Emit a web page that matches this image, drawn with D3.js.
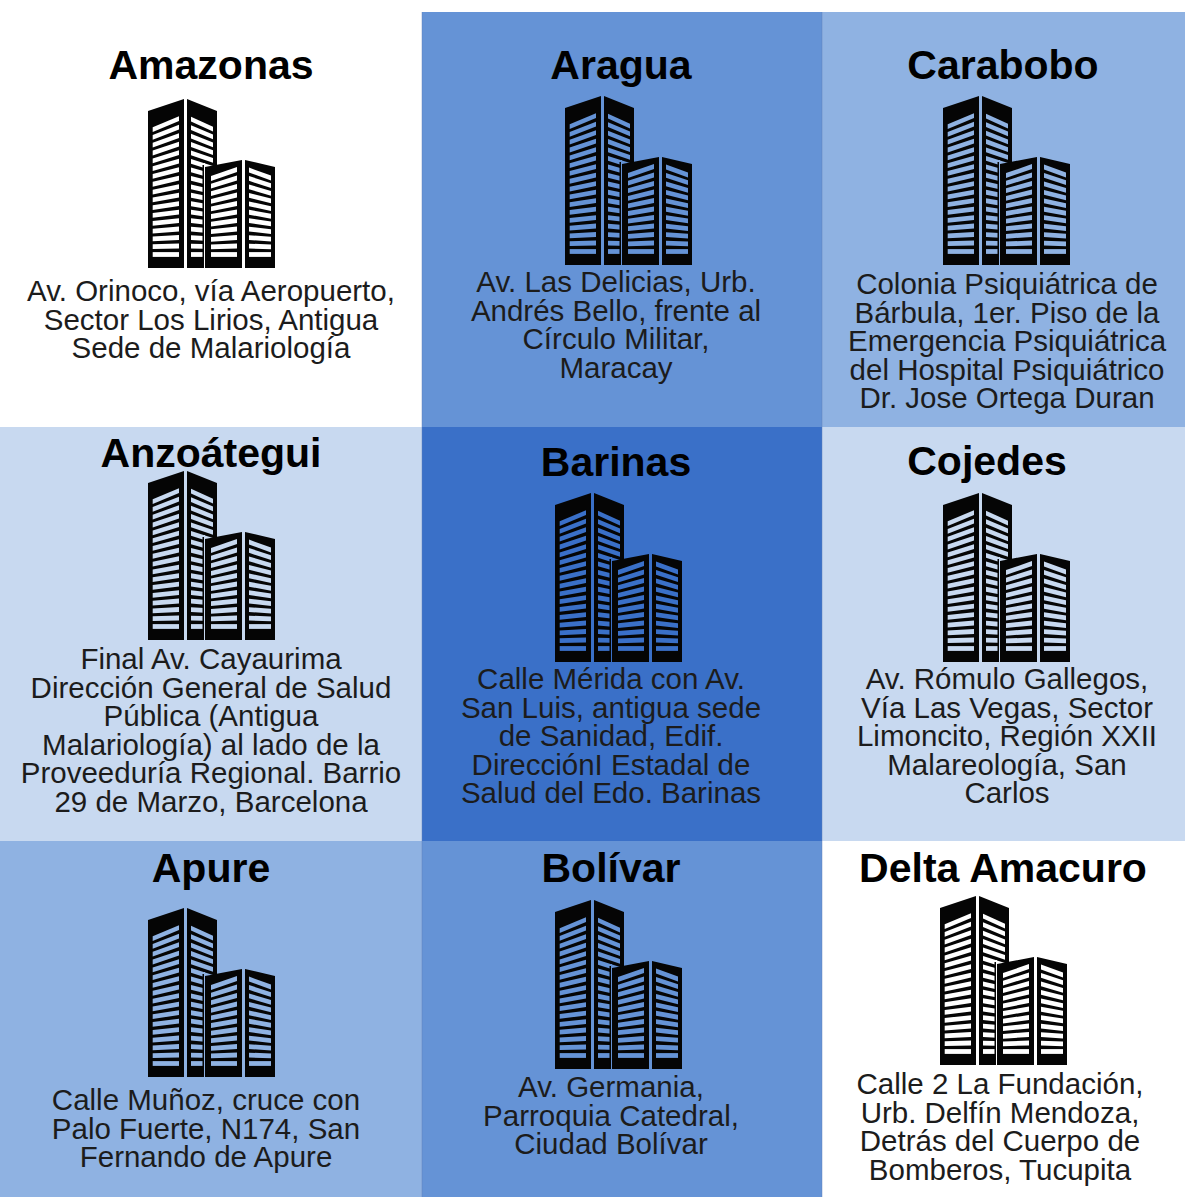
<!DOCTYPE html>
<html>
<head>
<meta charset="utf-8">
<script src="https://cdn.jsdelivr.net/npm/d3@7"></script>
<style>
  html, body { margin: 0; background: #fff; }
  text { font-family: "Liberation Sans", Arial, sans-serif; text-anchor: middle; }
</style>
</head>
<body>
<svg id="chart" width="1185" height="1200"></svg>
<script>
// data, column by column
const states = ["Amazonas", "Anzoátegui", "Apure", "Aragua", "Barinas", "Bolívar", "Carabobo", "Cojedes", "Delta Amacuro"];
const addresses = [
  ["Av. Orinoco, vía Aeropuerto,", "Sector Los Lirios, Antigua", "Sede de Malariología"],
  ["Final Av. Cayaurima", "Dirección General de Salud", "Pública (Antigua", "Malariología) al lado de la", "Proveeduría Regional. Barrio", "29 de Marzo, Barcelona"],
  ["Calle Muñoz, cruce con", "Palo Fuerte, N174, San", "Fernando de Apure"],
  ["Av. Las Delicias, Urb.", "Andrés Bello, frente al", "Círculo Militar,", "Maracay"],
  ["Calle Mérida con Av.", "San Luis, antigua sede", "de Sanidad, Edif.", "DirecciónI Estadal de", "Salud del Edo. Barinas"],
  ["Av. Germania,", "Parroquia Catedral,", "Ciudad Bolívar"],
  ["Colonia Psiquiátrica de", "Bárbula, 1er. Piso de la", "Emergencia Psiquiátrica", "del Hospital Psiquiátrico", "Dr. Jose Ortega Duran"],
  ["Av. Rómulo Gallegos,", "Vía Las Vegas, Sector", "Limoncito, Región XXII", "Malareología, San", "Carlos"],
  ["Calle 2 La Fundación,", "Urb. Delfín Mendoza,", "Detrás del Cuerpo de", "Bomberos, Tucupita"]
];
const shades = [0, 1, 2, 3, 4, 3, 2, 1, 0];

// layout, same order as states
const colEdges = [0, 422, 822, 1185];
const rowEdges = [12, 427, 841, 1197];
const titlePos = [[211, 79], [211, 467], [211, 882], [621, 79], [616, 476], [611, 882], [1003, 79], [987, 475], [1003, 882]];
const iconPos = [[148, 99], [148, 471], [148, 908], [565, 96], [555, 493], [555, 900], [943, 96], [943, 493], [940, 896]];
const textPos = [[211, 301], [211, 669], [206, 1110], [616, 292], [611, 689], [611, 1097], [1007, 294], [1007, 689], [1000, 1094]];

const color = d3.scaleOrdinal([0, 1, 2, 3, 4], ["#ffffff", "#c8d9f0", "#8fb2e2", "#6593d6", "#3a70c8"]);
const lineHeight = 28.5;

const svg = d3.select("#chart");

// one half of a building: rises towards the inner edge, windows follow the slant
function half(g, o, bg) {
  const bottom = 169;
  const risesRight = o.inner === o.x1;
  g.append("path")
    .attr("d", `M${o.x0},${risesRight ? o.outer : o.top}L${o.x1},${risesRight ? o.top : o.outer}L${o.x1},${bottom}L${o.x0},${bottom}Z`)
    .attr("fill", "#050505");
  d3.range(o.rows).forEach(i => {
    const yc = 155.5 - i * o.step;
    const s = o.slant * i / (o.rows - 1);
    const h = 4.8;
    const yL = risesRight ? yc + s / 2 : yc - s / 2;
    const yR = risesRight ? yc - s / 2 : yc + s / 2;
    g.append("path")
      .attr("d", `M${o.a},${yL - h / 2}L${o.b},${yR - h / 2}L${o.b},${yR + h / 2}L${o.a},${yL + h / 2}Z`)
      .attr("fill", bg);
  });
}

function building(g, bg) {
  half(g, { x0: 0, x1: 36, inner: 36, top: 0, outer: 12, a: 4.7, b: 31, rows: 17, step: 8.15, slant: 11 }, bg);
  half(g, { x0: 39, x1: 69, inner: 39, top: 0, outer: 12, a: 43, b: 65, rows: 17, step: 8.15, slant: 10 }, bg);
  // dark edge and gap between the tall and the short block
  g.append("path").attr("d", "M54.5,66V169H56V66Z").attr("fill", "#050505");
  g.append("path").attr("d", "M56,64V169H57V64Z").attr("fill", bg);
  half(g, { x0: 57, x1: 94, inner: 94, top: 61, outer: 68, a: 63, b: 89, rows: 11, step: 8.05, slant: 9 }, bg);
  half(g, { x0: 97, x1: 127, inner: 97, top: 61, outer: 68, a: 101, b: 123, rows: 11, step: 8.05, slant: 8 }, bg);
}

states.forEach((name, i) => {
  const c = Math.floor(i / 3), r = i % 3;
  const bg = color(shades[i]);
  svg.append("rect")
    .attr("x", colEdges[c]).attr("y", rowEdges[r])
    .attr("width", colEdges[c + 1] - colEdges[c])
    .attr("height", rowEdges[r + 1] - rowEdges[r])
    .attr("fill", bg);

  svg.append("text")
    .attr("x", titlePos[i][0]).attr("y", titlePos[i][1])
    .attr("font-size", 41).attr("font-weight", "bold")
    .attr("fill", "#000")
    .text(name);

  const g = svg.append("g").attr("transform", `translate(${iconPos[i][0]},${iconPos[i][1]})`);
  building(g, bg);

  svg.append("g").selectAll("text")
    .data(addresses[i])
    .join("text")
    .attr("x", textPos[i][0])
    .attr("y", (d, k) => textPos[i][1] + k * lineHeight)
    .attr("font-size", 29.5)
    .attr("fill", "#1c1c1c")
    .text(d => d);
});

// thin dark seams between the cells
svg.selectAll("line.col")
  .data(colEdges.slice(1, 3))
  .join("line")
  .attr("class", "col")
  .attr("x1", d => d).attr("x2", d => d)
  .attr("y1", rowEdges[0]).attr("y2", rowEdges[3])
  .attr("stroke", "#5f7fb5").attr("stroke-opacity", 0.45);
</script>
</body>
</html>
